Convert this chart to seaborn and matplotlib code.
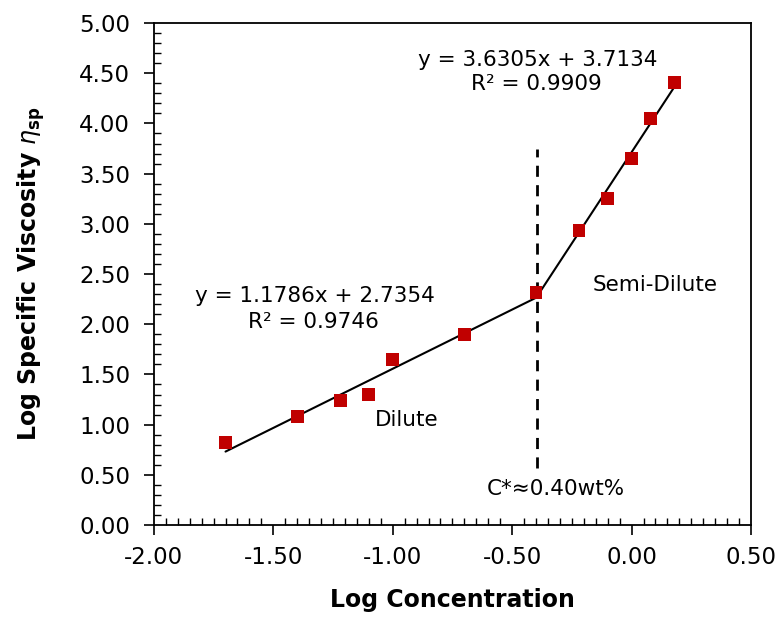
import numpy as np
import pandas as pd
import matplotlib
matplotlib.use("Agg")
import matplotlib.pyplot as plt
from matplotlib.ticker import MultipleLocator
import seaborn as sns

# data
log_conc = [-1.70, -1.40, -1.22, -1.10, -1.00, -0.70, -0.40, -0.22, -0.10, 0.00, 0.08, 0.18]
log_visc = [0.82, 1.08, 1.24, 1.30, 1.65, 1.90, 2.32, 2.93, 3.25, 3.65, 4.05, 4.41]

# trend lines as printed on the chart (slope, intercept, R²)
dilute_fit = (1.1786, 2.7354, 0.9746)
semi_fit = (3.6305, 3.7134, 0.9909)
dilute_range = [-1.70, -0.40]
semi_range = [-0.40, 0.18]

c_star = np.log10(0.40)
c_star_span = [0.57, 3.75]

sns.set_style("ticks")
plt.rcParams['font.family'] = ['DejaVu Sans']
plt.rcParams['text.color'] = 'black'
plt.rcParams['axes.labelcolor'] = 'black'
plt.rcParams['xtick.color'] = 'black'
plt.rcParams['ytick.color'] = 'black'

fig = plt.figure(figsize=(7.81, 6.17), dpi=100)
ax = fig.add_axes([0.197, 0.149, 0.7646, 0.8137])

df = pd.DataFrame({"x": log_conc, "y": log_visc})
sns.scatterplot(data=df, x="x", y="y", marker="s", s=85, color="#C00000",
                edgecolor="none", ax=ax, zorder=3)

for (m, b, r2), xr in [(dilute_fit, dilute_range), (semi_fit, semi_range)]:
    xs = np.array(xr)
    ax.plot(xs, m * xs + b, color="black", lw=1.5, zorder=2)

ax.plot([c_star, c_star], c_star_span, color="black", lw=2, ls=(0, (4, 3)))

fs = 15.5
ax.text(-1.326, 2.285, "y = %.4fx + %.4f" % dilute_fit[:2], ha="center", va="center", fontsize=fs)
ax.text(-1.333, 2.02, "R² = %.4f" % dilute_fit[2], ha="center", va="center", fontsize=fs)
ax.text(-0.392, 4.627, "y = %.4fx + %.4f" % semi_fit[:2], ha="center", va="center", fontsize=fs)
ax.text(-0.40, 4.388, "R² = %.4f" % semi_fit[2], ha="center", va="center", fontsize=fs)
ax.text(-0.941, 1.045, "Dilute", ha="center", va="center", fontsize=fs)
ax.text(0.098, 2.39, "Semi-Dilute", ha="center", va="center", fontsize=fs)
ax.text(-0.317, 0.358, "C*≈0.40wt%", ha="center", va="center", fontsize=fs)

ax.set_xlim(-2.0, 0.5)
ax.set_ylim(0.0, 5.0)
ax.xaxis.set_major_locator(MultipleLocator(0.5))
ax.xaxis.set_minor_locator(MultipleLocator(0.05))
ax.yaxis.set_major_locator(MultipleLocator(0.5))
ax.yaxis.set_minor_locator(MultipleLocator(0.1))
ax.xaxis.set_major_formatter(lambda v, p: "%.2f" % v)
ax.yaxis.set_major_formatter(lambda v, p: "%.2f" % v)
ax.tick_params(which="major", direction="out", length=7, width=1.2, labelsize=16.5)
ax.tick_params(axis="x", which="major", pad=8)
ax.tick_params(axis="y", which="major", pad=10)
ax.tick_params(which="minor", direction="in", length=5, width=1)
for s in ax.spines.values():
    s.set_linewidth(1.3)
    s.set_color("black")

ax.set_xlabel("Log Concentration", fontsize=17, fontweight="bold", labelpad=14)
ax.set_ylabel(r"Log Specific Viscosity $\eta_\mathbf{sp}$", fontsize=17,
              fontweight="bold", labelpad=23)

fig.savefig("out.png", dpi=100)
